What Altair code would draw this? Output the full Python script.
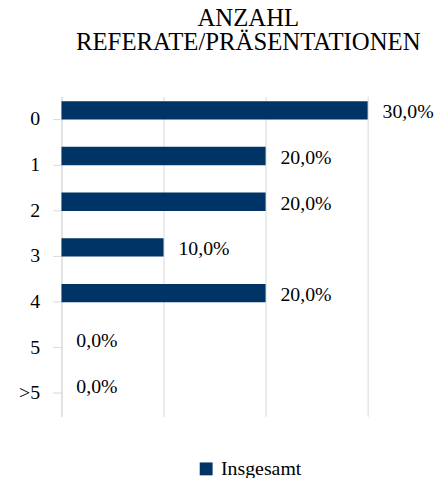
import altair as alt
import pandas as pd

categories = ["0", "1", "2", "3", "4", "5", ">5"]
values = [30.0, 20.0, 20.0, 10.0, 20.0, 0.0, 0.0]
series_name = "Insgesamt"
title_lines = ["ANZAHL", "REFERATE/PRÄSENTATIONEN"]

df = pd.DataFrame({
    "cat": categories,
    "val": values,
    "series": [series_name] * len(categories),
    "label": [f"{v:.1f}%".replace(".", ",") for v in values],
})

FONT = "Liberation Serif, Times New Roman, serif"
BAR = "#003366"
GRID = "#d9d9d9"

y_enc = alt.Y("cat:N", sort=categories, title=None,
              scale=alt.Scale(paddingInner=0, paddingOuter=0),
              axis=alt.Axis(labelFont=FONT, labelFontSize=20, labelColor="#000000",
                            tickColor=GRID, tickSize=9, domainColor=GRID,
                            labelPadding=13, grid=False))
x_enc = alt.X("val:Q", title=None,
              scale=alt.Scale(domain=[0, 30], nice=False),
              axis=alt.Axis(values=[0, 10, 20, 30], labels=False, ticks=False,
                            domain=False, grid=True, gridColor=GRID, gridWidth=1))

bars = alt.Chart(df).mark_bar(height=18.5, yOffset=-9).encode(
    x=x_enc,
    y=y_enc,
    color=alt.Color("series:N", title=None,
                    scale=alt.Scale(domain=[series_name], range=[BAR]),
                    legend=alt.Legend(orient="none", legendX=136, legendY=366,
                                      symbolType="square", symbolSize=169,
                                      symbolStrokeWidth=0, labelFont=FONT,
                                      labelFontSize=20, labelColor="#000000",
                                      labelOffset=5, padding=0)),
)

labels = alt.Chart(df).mark_text(align="left", baseline="middle", dx=15, yOffset=-7,
                                 font=FONT, fontSize=20, color="#000000").encode(
    x=alt.X("val:Q"),
    y=alt.Y("cat:N", sort=categories),
    text="label:N",
)

chart = alt.layer(bars, labels).properties(
    width=309,
    height=323,
    autosize="none",
    padding={"left": 54, "top": 87, "right": 70, "bottom": 60},
    title=alt.TitleParams(text=title_lines, font=FONT, fontSize=25, fontWeight="normal",
                          color="#000000", lineHeight=24, anchor="middle",
                          frame="group", dx=34, baseline="bottom", offset=17),
).configure(font=FONT).configure_view(stroke=None)

chart.save("out.html", embed_options={"renderer": "svg", "actions": False})
